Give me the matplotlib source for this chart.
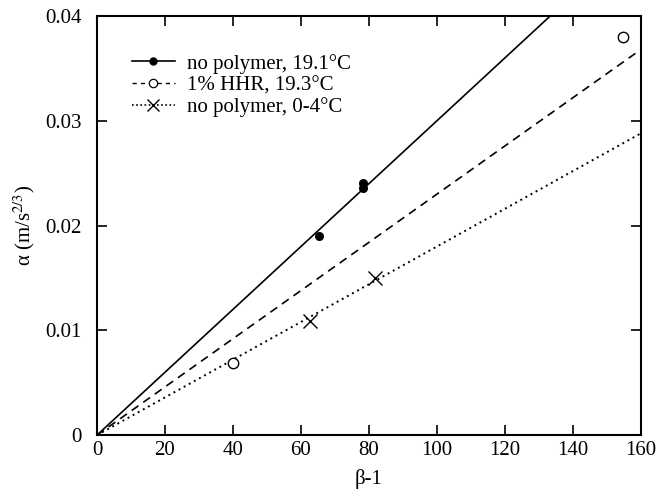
import matplotlib
matplotlib.use('Agg')
import matplotlib.pyplot as plt
import numpy as np

plt.rcParams['font.family'] = ['Liberation Serif', 'DejaVu Serif']
plt.rcParams['mathtext.fontset'] = 'stix'

# data
x_warm = [65.4, 78.2, 78.2]
y_warm = [0.0190, 0.0241, 0.0236]
x_hhr = [40.1, 154.6]
y_hhr = [0.0069, 0.0380]
x_cold = [62.6, 81.8]
y_cold = [0.0109, 0.0150]

# slopes of the fitted lines through the origin
slope_warm = 0.000300
slope_hhr = 0.000230
slope_cold = 0.000180

labels = ['no polymer, 19.1°C', '1% HHR, 19.3°C', 'no polymer, 0-4°C']
xticks = [0, 20, 40, 60, 80, 100, 120, 140, 160]
yticks = [0, 0.01, 0.02, 0.03, 0.04]
ytick_labels = ['0', '0.01', '0.02', '0.03', '0.04']

fig = plt.figure(figsize=(6.69, 4.99), dpi=100)
ax = fig.add_axes([0.145, 0.128, 0.813, 0.840])

xx = np.array([0, 160])

ax.plot(xx, slope_warm * xx, '-', color='black', lw=1.2)
ax.plot(xx, slope_hhr * xx, '--', color='black', lw=1.2, dashes=(5, 3.5))
ax.plot(xx, slope_cold * xx, ':', color='black', lw=1.4, dashes=(1, 2))

ax.plot(x_warm, y_warm, 'o', color='black', ms=5.5)
ax.plot(x_hhr, y_hhr, 'o', mfc='white', mec='black', mew=1.0, ms=7.5)
ax.plot(x_cold, y_cold, 'x', color='black', ms=10, mew=1.0)

# legend handles: line + marker
h1, = ax.plot([], [], '-', color='black', lw=1.2, marker='o', ms=5)
h2, = ax.plot([], [], '--', color='black', lw=1.0, dashes=(3, 3), marker='o',
              mfc='white', mec='black', ms=6, mew=0.9)
h3, = ax.plot([], [], ':', color='black', lw=1.2, dashes=(1, 1.5), marker='x', ms=9, mew=1.0)
ax.legend([h1, h2, h3], labels, loc='upper left', bbox_to_anchor=(0.045, 0.935),
          frameon=False, fontsize=15, handlelength=2.07, handletextpad=0.58,
          labelspacing=0.1, borderpad=0)

ax.set_xlim(0, 160)
ax.set_ylim(0, 0.04)
ax.set_xticks(xticks)
ax.set_yticks(yticks)
ax.set_yticklabels(ytick_labels)
ax.tick_params(direction='in', length=7, width=1.2, top=True, right=True,
               labelsize=15)
ax.tick_params(axis='x', pad=4)
ax.tick_params(axis='y', pad=11)
for sp in ax.spines.values():
    sp.set_linewidth(1.5)

ax.set_xlabel('β-1', fontsize=15, labelpad=7)
ax.set_ylabel(r'α (m/s$^{2/3}$)', fontsize=15, labelpad=6)

fig.savefig('out.png', dpi=100)
